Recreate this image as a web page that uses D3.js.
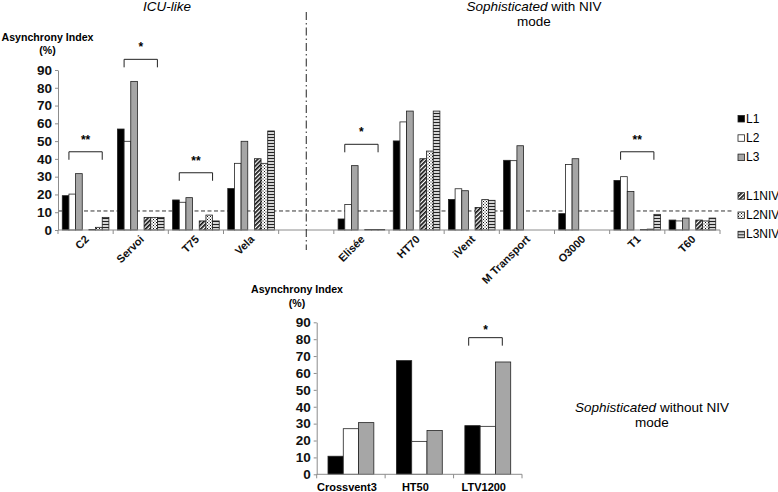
<!DOCTYPE html>
<html>
<head>
<meta charset="utf-8">
<script src="https://cdn.jsdelivr.net/npm/d3@7"></script>
<style>
  body { margin: 0; background: #fff; }
  svg { display: block; font-family: "Liberation Sans", Arial, sans-serif; }
</style>
</head>
<body>
<svg id="chart" width="778" height="492"></svg>
<script>
// top chart data (empty slot between the two groups)
const categoriesTop = ["C2", "Servoi", "T75", "Vela", "", "Elisée", "HT70", "iVent", "M Transport", "O3000", "T1", "T60"];
const l1 = [19.3, 56.8, 16.9, 23.3, null, 6.2, 50.1, 17.2, 39.2, 9.2, 27.9, 5.6];
const l2 = [20.2, 49.9, 15.6, 37.5, null, 14.4, 60.8, 23.2, 39.0, 36.8, 30.0, 5.1];
const l3 = [31.7, 83.6, 18.2, 49.9, null, 36.2, 66.9, 22.1, 47.4, 40.1, 21.7, 6.7];
const l1niv = [0.3, 7.1, 5.1, 40.1, null, 0.3, 40.1, 12.7, null, null, 0.3, 5.6];
const l2niv = [1.5, 7.1, 8.4, 37.5, null, 0.3, 44.4, 17.1, null, null, 0.5, 5.1];
const l3niv = [7.1, 7.1, 5.1, 55.7, null, 0.3, 66.9, 16.7, null, null, 8.8, 6.7];

// bottom chart data
const categoriesBottom = ["Crossvent3", "HT50", "LTV1200"];
const l1b = [10.7, 67.3, 28.8];
const l2b = [27.0, 19.5, 28.4];
const l3b = [30.6, 25.9, 66.5];

// ticks, threshold and significance marks
const yTicks = [0, 10, 20, 30, 40, 50, 60, 70, 80, 90];
const threshold = 10.7;
const legendLabels = ["L1", "L2", "L3", "L1NIV", "L2NIV", "L3NIV"];
const bracketsTop = [
  { cat: 0, value: 44, label: "**" },
  { cat: 1, value: 96, label: "*" },
  { cat: 2, value: 32.2, label: "**" },
  { cat: 5, value: 48.2, label: "*" },
  { cat: 10, value: 44, label: "**" }
];
const bracketsBottom = [{ cat: 2, value: 80.9, label: "*" }];

const svg = d3.select("#chart");

// patterns for the NIV series
const defs = svg.append("defs");
const hatch = defs.append("pattern").attr("id", "hatch")
    .attr("patternUnits", "userSpaceOnUse").attr("width", 3).attr("height", 3)
    .attr("patternTransform", "rotate(45)");
hatch.append("rect").attr("width", 3).attr("height", 3).attr("fill", "#fff");
hatch.append("rect").attr("width", 1.7).attr("height", 3).attr("fill", "#111");

const dots = defs.append("pattern").attr("id", "dots")
    .attr("patternUnits", "userSpaceOnUse").attr("width", 3).attr("height", 3);
dots.append("rect").attr("width", 3).attr("height", 3).attr("fill", "#fff");
dots.append("rect").attr("x", 0).attr("y", 0).attr("width", 1).attr("height", 1).attr("fill", "#111");
dots.append("rect").attr("x", 1.5).attr("y", 1.5).attr("width", 1).attr("height", 1).attr("fill", "#111");

const stripes = defs.append("pattern").attr("id", "stripes")
    .attr("patternUnits", "userSpaceOnUse").attr("width", 4).attr("height", 3);
stripes.append("rect").attr("width", 4).attr("height", 3).attr("fill", "#d4d4d4");
stripes.append("rect").attr("y", 2).attr("width", 4).attr("height", 1).attr("fill", "#222");

const fills = {
  L1: "#000", L2: "#fff", L3: "#a6a6a6",
  L1NIV: "url(#hatch)", L2NIV: "url(#dots)", L3NIV: "url(#stripes)"
};

// ---------- top chart ----------
const yTop = d3.scaleLinear().domain([0, 90]).range([230, 70]);
const xTop = d3.scaleBand()
    .domain(d3.range(categoriesTop.length))
    .range([58, 720])
    .paddingInner(0.155)
    .paddingOuter(0.0775);
const slotTop = d3.scaleBand()
    .domain(["L1", "L2", "L3", "gap", "L1NIV", "L2NIV", "L3NIV"])
    .range([0, xTop.bandwidth()]);

const seriesTop = [
  { key: "L1", values: l1 }, { key: "L2", values: l2 }, { key: "L3", values: l3 },
  { key: "L1NIV", values: l1niv }, { key: "L2NIV", values: l2niv }, { key: "L3NIV", values: l3niv }
];

// threshold line
svg.append("line")
    .attr("x1", 58).attr("x2", 732)
    .attr("y1", yTop(threshold)).attr("y2", yTop(threshold))
    .attr("stroke", "#333").attr("stroke-dasharray", "4,2.5");

const barsTop = svg.append("g");
seriesTop.forEach(s => {
  barsTop.append("g")
    .selectAll("rect")
    .data(s.values.map((v, i) => ({ i, v })).filter(d => d.v != null))
    .join("rect")
      .attr("x", d => xTop(d.i) + slotTop(s.key))
      .attr("y", d => yTop(d.v))
      .attr("width", slotTop.bandwidth())
      .attr("height", d => yTop(0) - yTop(d.v))
      .attr("fill", fills[s.key])
      .attr("stroke", "#222")
      .attr("stroke-width", 0.8);
});

// y axis
const yAxisTop = svg.append("g")
    .attr("transform", "translate(58,0)")
    .call(d3.axisLeft(yTop).tickValues(yTicks).tickSize(3).tickSizeOuter(0).tickPadding(3));

// x axis: line and boundary ticks
const xAxisTop = svg.append("g");
xAxisTop.append("line")
    .attr("x1", xTop.range()[0]).attr("x2", xTop.range()[1])
    .attr("y1", yTop(0)).attr("y2", yTop(0));
xAxisTop.selectAll(".bt")
    .data(d3.range(categoriesTop.length + 1))
    .join("line")
      .attr("x1", d => xTop.range()[0] + d * xTop.step())
      .attr("x2", d => xTop.range()[0] + d * xTop.step())
      .attr("y1", yTop(0)).attr("y2", yTop(0) + 4);
xAxisTop.selectAll("line").attr("stroke", "#8c8c8c");

// slanted category labels: each label sits in its own rotated group
const labelGroups = svg.append("g")
  .selectAll("g")
  .data(categoriesTop.map((c, i) => ({ c, i })).filter(d => d.c !== ""))
  .join("g")
    .attr("transform", d => `translate(${xTop(d.i) + xTop.bandwidth() / 2 + 4},${yTop(0) + 10}) rotate(-45)`);
labelGroups.append("text")
    .attr("text-anchor", "end")
    .attr("font-size", 11)
    .attr("font-weight", "bold")
    .attr("fill", "#111")
    .text(d => d.c);

// group divider
svg.append("line")
    .attr("x1", xTop(4) + xTop.bandwidth() / 2).attr("x2", xTop(4) + xTop.bandwidth() / 2)
    .attr("y1", 12).attr("y2", 250)
    .attr("stroke", "#222").attr("stroke-dasharray", "8,3,1.5,3");

// significance brackets
function drawBrackets(data, x, slot, y, from, to, tick, lift) {
  const g = svg.append("g");
  data.forEach(b => {
    const x1 = x(b.cat) + from(slot);
    const x2 = x(b.cat) + to(slot);
    const yy = y(b.value);
    g.append("path")
        .attr("d", `M${x1},${yy + tick}V${yy}H${x2}V${yy + tick}`)
        .attr("fill", "none").attr("stroke", "#222").attr("stroke-width", 1);
    g.append("text")
        .attr("x", (x1 + x2) / 2).attr("y", yy - lift)
        .attr("text-anchor", "middle")
        .attr("font-size", 12).attr("font-weight", "bold")
        .text(b.label);
  });
}
drawBrackets(bracketsTop, xTop, slotTop, yTop,
  s => s("L2"), s => s("L3NIV"), 8, 8);

// titles
svg.append("text")
    .attr("x", xTop(1) + xTop.step() * 0.9).attr("y", 11)
    .attr("text-anchor", "middle").attr("font-size", 13.5).attr("font-style", "italic")
    .text("ICU-like");
const t2 = svg.append("text")
    .attr("x", 534).attr("y", 10.5)
    .attr("text-anchor", "middle").attr("font-size", 13.5);
t2.append("tspan").attr("font-style", "italic").text("Sophisticated");
t2.append("tspan").text(" with NIV");
svg.append("text")
    .attr("x", 534).attr("y", 25.5)
    .attr("text-anchor", "middle").attr("font-size", 13.5)
    .text("mode");

// legend
const legend = svg.append("g")
  .selectAll("g")
  .data(legendLabels)
  .join("g")
    .attr("transform", (d, i) => `translate(738,${122.5 + i * 19.3 + (i >= 3 ? 19.3 : 0)})`);
legend.append("rect")
    .attr("y", -7).attr("width", 6.5).attr("height", 6.5)
    .attr("fill", d => fills[d]).attr("stroke", "#222").attr("stroke-width", 0.8);
legend.append("text")
    .attr("x", 8).attr("font-size", 12)
    .text(d => d);

// ---------- bottom chart ----------
const yBot = d3.scaleLinear().domain([0, 90]).range([474.3, 322.3]);
const xBot = d3.scaleBand()
    .domain(d3.range(categoriesBottom.length))
    .range([316.7, 522])
    .paddingInner(0.33)
    .paddingOuter(0.165);
const slotBot = d3.scaleBand().domain(["L1", "L2", "L3"]).range([0, xBot.bandwidth()]);

const seriesBot = [{ key: "L1", values: l1b }, { key: "L2", values: l2b }, { key: "L3", values: l3b }];
seriesBot.forEach(s => {
  svg.append("g")
    .selectAll("rect")
    .data(s.values.map((v, i) => ({ i, v })))
    .join("rect")
      .attr("x", d => xBot(d.i) + slotBot(s.key))
      .attr("y", d => yBot(d.v))
      .attr("width", slotBot.bandwidth())
      .attr("height", d => yBot(0) - yBot(d.v))
      .attr("fill", fills[s.key])
      .attr("stroke", "#222")
      .attr("stroke-width", 0.8);
});

const yAxisBot = svg.append("g")
    .attr("transform", "translate(316.7,0)")
    .call(d3.axisLeft(yBot).tickValues(yTicks).tickSize(3).tickSizeOuter(0).tickPadding(3));

const xAxisBot = svg.append("g");
xAxisBot.append("line")
    .attr("x1", xBot.range()[0]).attr("x2", xBot.range()[1])
    .attr("y1", yBot(0)).attr("y2", yBot(0));
xAxisBot.selectAll(".bt")
    .data(d3.range(categoriesBottom.length + 1))
    .join("line")
      .attr("x1", d => xBot.range()[0] + d * xBot.step())
      .attr("x2", d => xBot.range()[0] + d * xBot.step())
      .attr("y1", yBot(0)).attr("y2", yBot(0) + 4);
xAxisBot.selectAll("line").attr("stroke", "#8c8c8c");

svg.append("g")
  .selectAll("text")
  .data(categoriesBottom)
  .join("text")
    .attr("x", (d, i) => xBot(i) + xBot.bandwidth() / 2 - 4)
    .attr("y", 491)
    .attr("text-anchor", "middle")
    .attr("font-size", 11).attr("font-weight", "bold")
    .text(d => d);

drawBrackets(bracketsBottom, xBot, slotBot, yBot,
  s => s("L1") + s.bandwidth() * 0.25, s => s("L3") + s.bandwidth() * 0.45, 8, 4);

svg.append("text")
    .attr("x", 652).attr("y", 411.5)
    .attr("text-anchor", "middle").attr("font-size", 13.5)
  .call(t => {
    t.append("tspan").attr("font-style", "italic").text("Sophisticated");
    t.append("tspan").text(" without NIV");
  });
svg.append("text")
    .attr("x", 652).attr("y", 427)
    .attr("text-anchor", "middle").attr("font-size", 13.5)
    .text("mode");

// shared axis styling
[yAxisTop, yAxisBot].forEach(a => {
  a.selectAll(".domain, .tick line").attr("stroke", "#8c8c8c");
  a.selectAll(".tick text")
      .attr("font-family", "Liberation Sans, Arial, sans-serif")
      .attr("font-size", 13.5).attr("font-weight", "bold").attr("fill", "#111");
});

// axis titles
[[47.5, 40.7, 54.3], [297, 293, 306.5]].forEach(([x, y1, y2]) => {
  svg.append("text").attr("x", x).attr("y", y1)
      .attr("text-anchor", "middle").attr("font-size", 10.6).attr("font-weight", "bold")
      .text("Asynchrony Index");
  svg.append("text").attr("x", x).attr("y", y2)
      .attr("text-anchor", "middle").attr("font-size", 10.6).attr("font-weight", "bold")
      .text("(%)");
});
</script>
</body>
</html>
